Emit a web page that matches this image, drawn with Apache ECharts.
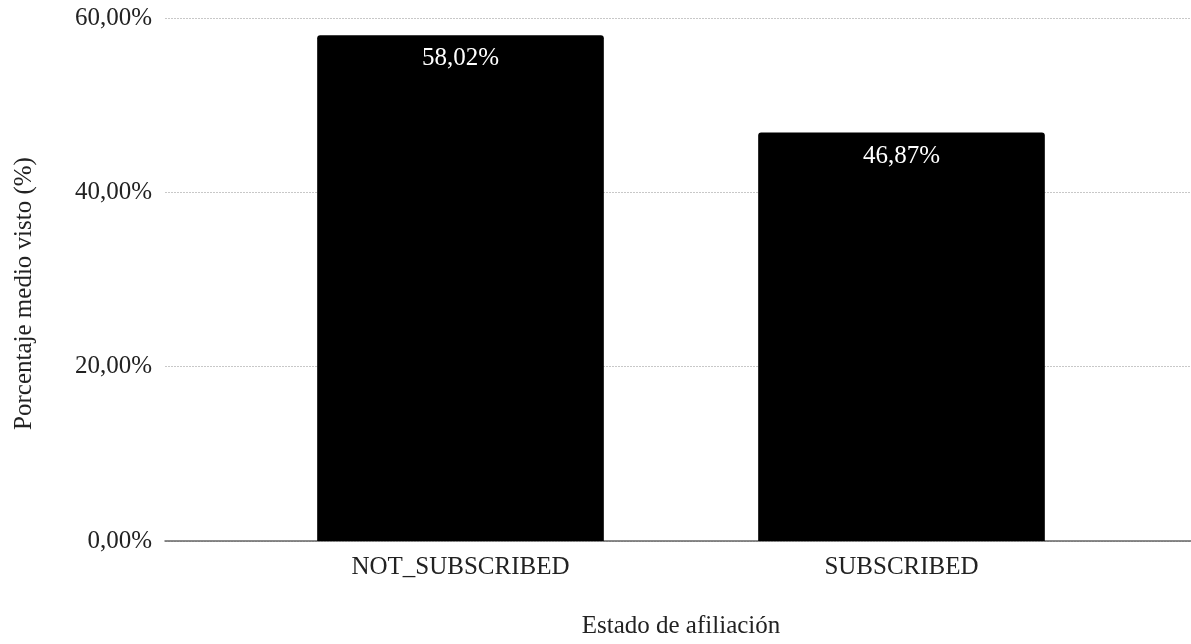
<!DOCTYPE html>
<html>
<head>
<meta charset="utf-8">
<script src="https://cdn.jsdelivr.net/npm/echarts@6/dist/echarts.min.js"></script>
<style>
  html, body { margin: 0; padding: 0; background: #fff; }
  #chart { width: 1191px; height: 644px; }
</style>
</head>
<body>
<div id="chart"></div>
<script>
const categories = ["NOT_SUBSCRIBED", "SUBSCRIBED"];
const values = [58.02, 46.87];
const yTicks = { min: 0, max: 60, interval: 20 };

const FONT = "'Liberation Serif', 'Times New Roman', serif";
const FS = 25;
const fmtPct = (v) => v.toFixed(2).replace(".", ",") + "%";

const chart = echarts.init(document.getElementById("chart"), null, { renderer: "canvas" });

chart.setOption({
  animation: false,
  backgroundColor: "#fff",
  textStyle: { fontFamily: FONT },
  grid: [
    // frame grid: gridlines + baseline span the full width
    { left: 165, right: 0, top: 18, bottom: 103 },
    // bar grid
    { left: 240, right: 69, top: 18, bottom: 103 }
  ],
  xAxis: [
    {
      gridIndex: 0,
      type: "category",
      data: [""],
      axisLine: { show: true, lineStyle: { color: "#666", width: 1.5 } },
      axisTick: { show: false },
      axisLabel: { show: false }
    },
    {
      gridIndex: 1,
      type: "category",
      data: categories,
      axisLine: { show: false },
      axisTick: { show: false },
      axisLabel: { fontSize: FS, color: "#222", margin: 14, fontFamily: FONT },
      name: "Estado de afiliación",
      nameLocation: "middle",
      nameGap: 73,
      nameTextStyle: { fontSize: FS, color: "#222", fontFamily: FONT }
    }
  ],
  yAxis: [
    {
      gridIndex: 0,
      type: "value",
      min: yTicks.min,
      max: yTicks.max,
      interval: yTicks.interval,
      axisLine: { show: false },
      axisTick: { show: false },
      axisLabel: { fontSize: FS, color: "#222", margin: 13, fontFamily: FONT, formatter: fmtPct },
      splitLine: { lineStyle: { color: "#c8c8c8", width: 1, type: [2, 1] } },
      name: "Porcentaje medio visto (%)",
      nameLocation: "middle",
      nameGap: 128,
      nameTextStyle: { fontSize: FS, color: "#222", fontFamily: FONT, padding: [0, 28, 0, 0] }
    },
    {
      gridIndex: 1,
      type: "value",
      min: yTicks.min,
      max: yTicks.max,
      interval: yTicks.interval,
      show: false,
      splitLine: { show: false }
    }
  ],
  series: [
    {
      type: "bar",
      xAxisIndex: 1,
      yAxisIndex: 1,
      data: values,
      barWidth: "65%",
      itemStyle: { color: "#000", borderRadius: [3, 3, 0, 0] },
      label: {
        show: true,
        position: "insideTop",
        distance: 11,
        color: "#fff",
        fontSize: FS,
        fontFamily: FONT,
        formatter: (p) => fmtPct(p.value)
      }
    }
  ]
});
</script>
</body>
</html>
